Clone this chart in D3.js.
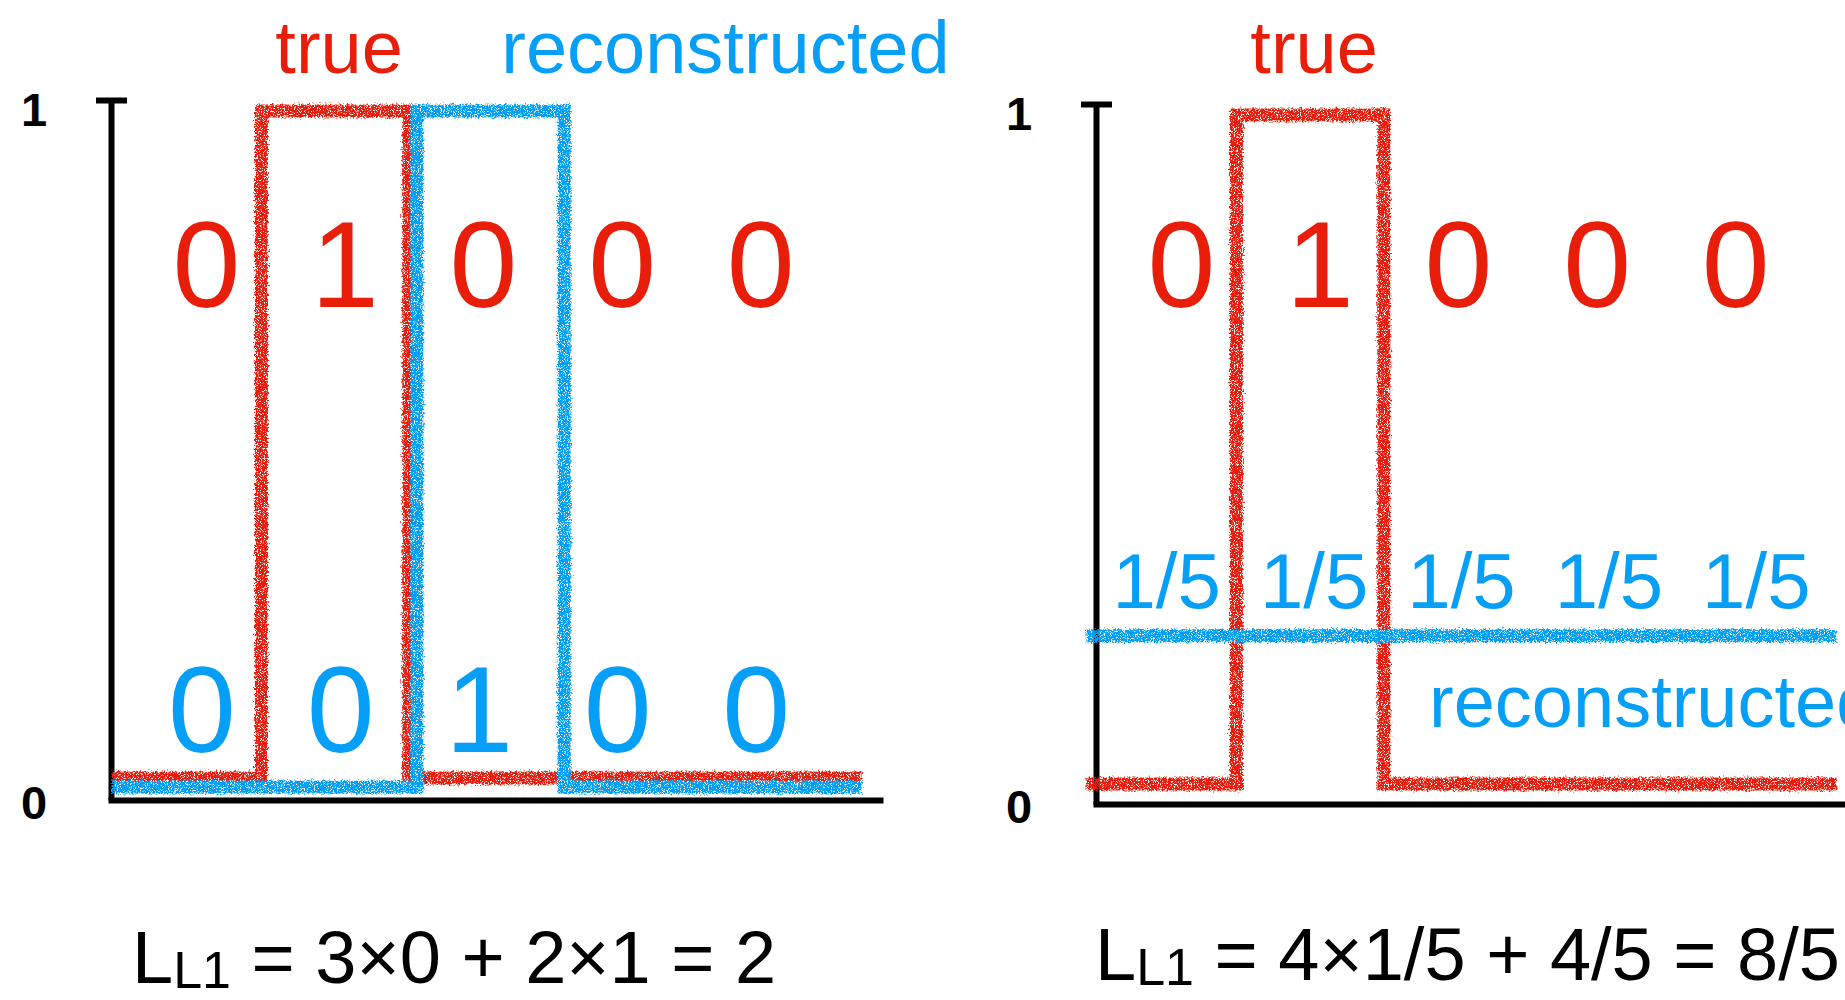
<!DOCTYPE html>
<html>
<head>
<meta charset="utf-8">
<script src="https://cdn.jsdelivr.net/npm/d3@7"></script>
<style>
  html, body { margin: 0; padding: 0; background: #fff; }
  svg { display: block; }
  text { font-family: "Liberation Sans", Arial, Helvetica, sans-serif; }
</style>
</head>
<body>
<svg id="chart" width="1845" height="1000"></svg>
<script>
(function () {
  "use strict";

  // five bins, true one-hot vector vs two reconstructions
  const bins = [0, 1, 2, 3, 4];
  const trueValues = [0, 1, 0, 0, 0];
  const reconShifted = [0, 0, 1, 0, 0];
  const reconUniform = [0.2, 0.2, 0.2, 0.2, 0.2];
  const trueLabels = ["0", "1", "0", "0", "0"];
  const shiftedLabels = ["0", "0", "1", "0", "0"];
  const uniformLabels = ["1/5", "1/5", "1/5", "1/5", "1/5"];
  const yTicks = [0, 1];
  const lossLeft = ["L", "L1", " = 3×0 + 2×1 = 2"];
  const lossRight = ["L", "L1", " = 4×1/5 + 4/5 = 8/5"];

  const RED = "#e81e0a";
  const BLUE = "#069ff7";

  const svg = d3.select("#chart");

  // chalky hand-drawn look for the step lines
  const defs = svg.append("defs");
  const chalk = defs.append("filter")
    .attr("id", "chalk")
    .attr("filterUnits", "userSpaceOnUse")
    .attr("x", 0).attr("y", 0).attr("width", 1845).attr("height", 1000);
  chalk.append("feTurbulence")
    .attr("type", "fractalNoise").attr("baseFrequency", 0.55).attr("numOctaves", 2).attr("seed", 4)
    .attr("result", "noise");
  chalk.append("feDisplacementMap")
    .attr("in", "SourceGraphic").attr("in2", "noise").attr("scale", 7)
    .attr("xChannelSelector", "R").attr("yChannelSelector", "G")
    .attr("result", "rough");
  chalk.append("feTurbulence")
    .attr("type", "fractalNoise").attr("baseFrequency", 1.3).attr("numOctaves", 1).attr("seed", 9)
    .attr("result", "grain");
  chalk.append("feColorMatrix")
    .attr("in", "grain").attr("type", "matrix")
    .attr("values", "0 0 0 0 0  0 0 0 0 0  0 0 0 0 0  -9 0 0 0 5.9")
    .attr("result", "mask");
  chalk.append("feComposite")
    .attr("in", "rough").attr("in2", "mask").attr("operator", "in");

  const panels = [
    {
      axisX: 111, yRange: [800, 100], xRange: [118, 855], axisEnd: 883,
      recon: reconShifted,
      lift: { truth: 22, recon: 13 },
      trueLabelX: 1.5, reconLabel: { at: 2.6, y: 73 },
      reconText: { labels: shiftedLabels, size: 122, y: 752, pos: (i) => 0.57 + 0.94 * i },
      loss: lossLeft, lossAt: [132, 983]
    },
    {
      axisX: 1096, yRange: [804, 104], xRange: [1093, 1830], axisEnd: 1870,
      recon: reconUniform,
      lift: { truth: 20, recon: 38 },
      trueLabelX: 1.5, reconLabel: { at: 2.28, y: 727 },
      reconText: { labels: uniformLabels, size: 78, y: 608, pos: (i) => i + 0.5 },
      loss: lossRight, lossAt: [1095, 980]
    }
  ];

  panels.forEach(drawPanel);

  function stepPath(values, x, ys, dx) {
    const n = values.length;
    const pts = values.map((v, i) => [i, v]).concat([[n, values[n - 1]]]);
    return d3.line()
      .x((d) => x(d[0]) + (d[0] > 0 && d[0] < n ? dx : 0))
      .y((d) => ys(d[1]))
      .curve(d3.curveStepAfter)(pts);
  }

  function drawPanel(p) {
    const x = d3.scaleLinear().domain([0, bins.length]).range(p.xRange);
    const y = d3.scaleLinear().domain([0, 1]).range(p.yRange);
    const g = svg.append("g");

    // axes
    const yAxis = d3.axisLeft(y).tickValues(yTicks).tickFormat(d3.format("d"))
      .tickSizeInner(0).tickSizeOuter(0).tickPadding(0);
    const ya = g.append("g").attr("transform", `translate(${p.axisX},0)`).call(yAxis);
    ya.select(".domain").attr("stroke", "#000").attr("stroke-width", 6);
    ya.selectAll(".tick line")
      .attr("stroke", "#000").attr("stroke-width", 6)
      .attr("x1", (d) => (d === 1 ? -15 : 0))
      .attr("x2", (d) => (d === 1 ? 16 : 0));
    ya.selectAll(".tick text")
      .attr("x", -77)
      .attr("dy", (d) => (d === 1 ? 25 : 18))
      .attr("text-anchor", "middle")
      .attr("fill", "#000")
      .style("font-family", '"Liberation Sans", Arial, sans-serif')
      .style("font-weight", "bold")
      .style("font-size", "47px");

    const xAxisScale = d3.scaleLinear().range([p.axisX - 3, p.axisEnd]);
    const xa = g.append("g").attr("transform", `translate(0,${p.yRange[0]})`)
      .call(d3.axisBottom(xAxisScale).tickValues([]).tickSizeOuter(0));
    xa.select(".domain").attr("stroke", "#000").attr("stroke-width", 6);

    // step lines
    const lines = g.append("g").attr("filter", "url(#chalk)").attr("fill", "none")
      .attr("stroke-width", 13).attr("stroke-linejoin", "miter").attr("stroke-linecap", "square");
    const yTrue = y.copy().range([y(0) - p.lift.truth, y(1) + 11]);
    const yRecon = y.copy().range([y(0) - p.lift.recon, y(1) + 11]);
    lines.append("path").attr("stroke", RED).attr("d", stepPath(trueValues, x, yTrue, -4));
    lines.append("path").attr("stroke", BLUE).attr("d", stepPath(p.recon, x, yRecon, 4));

    // value labels
    g.append("g").selectAll("text").data(trueLabels).join("text")
      .attr("x", (d, i) => x(0.6 + 0.94 * i))
      .attr("y", 307)
      .attr("text-anchor", "middle")
      .attr("fill", RED)
      .style("font-size", "122px")
      .text((d) => d);

    g.append("g").selectAll("text").data(p.reconText.labels).join("text")
      .attr("x", (d, i) => x(p.reconText.pos(i)))
      .attr("y", p.reconText.y)
      .attr("text-anchor", "middle")
      .attr("fill", BLUE)
      .style("font-size", p.reconText.size + "px")
      .text((d) => d);

    // series names
    g.append("text")
      .attr("x", x(p.trueLabelX)).attr("y", 73)
      .attr("text-anchor", "middle").attr("fill", RED)
      .style("font-size", "74px")
      .text("true");
    g.append("text")
      .attr("x", x(p.reconLabel.at)).attr("y", p.reconLabel.y)
      .attr("text-anchor", "start").attr("fill", BLUE)
      .style("font-size", "74px")
      .text("reconstructed");

    // loss formula
    const f = g.append("text")
      .attr("x", p.lossAt[0]).attr("y", p.lossAt[1])
      .attr("fill", "#000")
      .style("font-size", "74px");
    f.append("tspan").text(p.loss[0]);
    f.append("tspan").attr("dy", 5).style("font-size", "52px").text(p.loss[1]);
    f.append("tspan").attr("dy", -5).text(p.loss[2]);
  }
})();
</script>
</body>
</html>
